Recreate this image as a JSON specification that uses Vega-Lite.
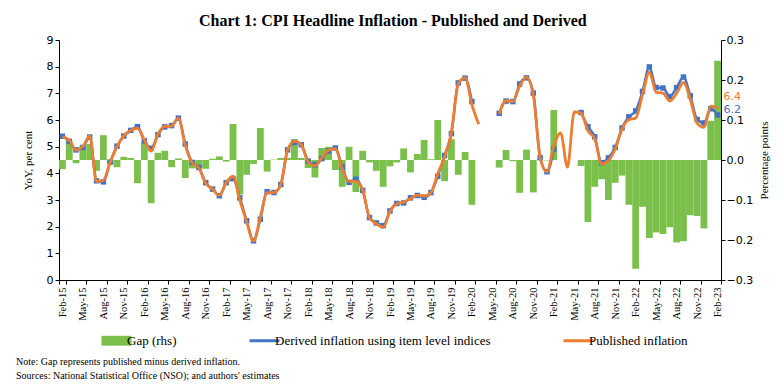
{
  "$schema": "https://vega.github.io/schema/vega-lite/v6.json",
  "background": "white",
  "padding": {"left": 16, "top": 13, "right": 4, "bottom": 2},
  "title": {"text": "Chart 1: CPI Headline Inflation - Published and Derived", "font": "Liberation Serif", "fontSize": 16, "fontWeight": "bold", "anchor": "middle", "color": "black", "offset": 5},
  "config": {
    "view": {"stroke": null},
    "axis": {"grid": false, "domainColor": "black", "tickColor": "black", "labelColor": "black", "titleColor": "black", "tickSize": 4}
  },
  "data": {"values": [
    {"month": "Feb-15", "published": 5.37, "derived": 5.39, "gap": -0.023},
    {"month": "Mar-15", "published": 5.25, "derived": 5.20, "gap": 0.048},
    {"month": "Apr-15", "published": 4.87, "derived": 4.88, "gap": -0.008},
    {"month": "May-15", "published": 5.01, "derived": 4.97, "gap": 0.036},
    {"month": "Jun-15", "published": 5.40, "derived": 5.36, "gap": 0.040},
    {"month": "Jul-15", "published": 3.69, "derived": 3.72, "gap": -0.027},
    {"month": "Aug-15", "published": 3.74, "derived": 3.68, "gap": 0.062},
    {"month": "Sep-15", "published": 4.41, "derived": 4.42, "gap": -0.010},
    {"month": "Oct-15", "published": 5.00, "derived": 5.02, "gap": -0.018},
    {"month": "Nov-15", "published": 5.41, "derived": 5.40, "gap": 0.008},
    {"month": "Dec-15", "published": 5.61, "derived": 5.61, "gap": 0.005},
    {"month": "Jan-16", "published": 5.69, "derived": 5.75, "gap": -0.058},
    {"month": "Feb-16", "published": 5.26, "derived": 5.22, "gap": 0.044},
    {"month": "Mar-16", "published": 4.83, "derived": 4.94, "gap": -0.108},
    {"month": "Apr-16", "published": 5.47, "derived": 5.45, "gap": 0.018},
    {"month": "May-16", "published": 5.76, "derived": 5.74, "gap": 0.023},
    {"month": "Jun-16", "published": 5.77, "derived": 5.79, "gap": -0.018},
    {"month": "Jul-16", "published": 6.07, "derived": 6.07, "gap": 0.004},
    {"month": "Aug-16", "published": 5.05, "derived": 5.10, "gap": -0.045},
    {"month": "Sep-16", "published": 4.39, "derived": 4.41, "gap": -0.021},
    {"month": "Oct-16", "published": 4.20, "derived": 4.22, "gap": -0.020},
    {"month": "Nov-16", "published": 3.63, "derived": 3.65, "gap": -0.022},
    {"month": "Dec-16", "published": 3.41, "derived": 3.41, "gap": 0.003},
    {"month": "Jan-17", "published": 3.17, "derived": 3.16, "gap": 0.009},
    {"month": "Feb-17", "published": 3.65, "derived": 3.65, "gap": -0.004},
    {"month": "Mar-17", "published": 3.89, "derived": 3.80, "gap": 0.090},
    {"month": "Apr-17", "published": 2.99, "derived": 3.08, "gap": -0.086},
    {"month": "May-17", "published": 2.18, "derived": 2.22, "gap": -0.037},
    {"month": "Jun-17", "published": 1.46, "derived": 1.47, "gap": -0.010},
    {"month": "Jul-17", "published": 2.36, "derived": 2.28, "gap": 0.080},
    {"month": "Aug-17", "published": 3.28, "derived": 3.31, "gap": -0.029},
    {"month": "Sep-17", "published": 3.28, "derived": 3.28, "gap": 0.001},
    {"month": "Oct-17", "published": 3.58, "derived": 3.58, "gap": 0.005},
    {"month": "Nov-17", "published": 4.88, "derived": 4.88, "gap": 0.005},
    {"month": "Dec-17", "published": 5.21, "derived": 5.16, "gap": 0.052},
    {"month": "Jan-18", "published": 5.07, "derived": 5.07, "gap": 0.005},
    {"month": "Feb-18", "published": 4.44, "derived": 4.46, "gap": -0.020},
    {"month": "Mar-18", "published": 4.28, "derived": 4.32, "gap": -0.044},
    {"month": "Apr-18", "published": 4.58, "derived": 4.55, "gap": 0.030},
    {"month": "May-18", "published": 4.87, "derived": 4.84, "gap": 0.033},
    {"month": "Jun-18", "published": 4.92, "derived": 4.95, "gap": -0.025},
    {"month": "Jul-18", "published": 4.17, "derived": 4.24, "gap": -0.067},
    {"month": "Aug-18", "published": 3.69, "derived": 3.66, "gap": 0.033},
    {"month": "Sep-18", "published": 3.70, "derived": 3.78, "gap": -0.080},
    {"month": "Oct-18", "published": 3.38, "derived": 3.36, "gap": 0.023},
    {"month": "Nov-18", "published": 2.33, "derived": 2.34, "gap": -0.006},
    {"month": "Dec-18", "published": 2.11, "derived": 2.14, "gap": -0.027},
    {"month": "Jan-19", "published": 1.97, "derived": 2.04, "gap": -0.067},
    {"month": "Feb-19", "published": 2.57, "derived": 2.59, "gap": -0.016},
    {"month": "Mar-19", "published": 2.86, "derived": 2.87, "gap": -0.006},
    {"month": "Apr-19", "published": 2.92, "derived": 2.89, "gap": 0.029},
    {"month": "May-19", "published": 3.05, "derived": 3.08, "gap": -0.031},
    {"month": "Jun-19", "published": 3.18, "derived": 3.17, "gap": 0.015},
    {"month": "Jul-19", "published": 3.15, "derived": 3.10, "gap": 0.050},
    {"month": "Aug-19", "published": 3.28, "derived": 3.28, "gap": 0.002},
    {"month": "Sep-19", "published": 3.99, "derived": 3.89, "gap": 0.100},
    {"month": "Oct-19", "published": 4.62, "derived": 4.67, "gap": -0.053},
    {"month": "Nov-19", "published": 5.54, "derived": 5.49, "gap": 0.052},
    {"month": "Dec-19", "published": 7.35, "derived": 7.39, "gap": -0.037},
    {"month": "Jan-20", "published": 7.59, "derived": 7.57, "gap": 0.020},
    {"month": "Feb-20", "published": 6.58, "derived": 6.69, "gap": -0.112},
    {"month": "Mar-20", "published": 5.84, "derived": null, "gap": null},
    {"month": "Apr-20", "published": null, "derived": null, "gap": null},
    {"month": "May-20", "published": null, "derived": null, "gap": null},
    {"month": "Jun-20", "published": 6.23, "derived": 6.25, "gap": -0.019},
    {"month": "Jul-20", "published": 6.73, "derived": 6.71, "gap": 0.025},
    {"month": "Aug-20", "published": 6.69, "derived": 6.69, "gap": -0.003},
    {"month": "Sep-20", "published": 7.27, "derived": 7.35, "gap": -0.082},
    {"month": "Oct-20", "published": 7.61, "derived": 7.58, "gap": 0.026},
    {"month": "Nov-20", "published": 6.93, "derived": 7.01, "gap": -0.081},
    {"month": "Dec-20", "published": 4.59, "derived": 4.59, "gap": 0.001},
    {"month": "Jan-21", "published": 4.06, "derived": 4.06, "gap": -0.001},
    {"month": "Feb-21", "published": 5.03, "derived": 4.91, "gap": 0.125},
    {"month": "Mar-21", "published": 5.52, "derived": null, "gap": null},
    {"month": "Apr-21", "published": 4.23, "derived": null, "gap": null},
    {"month": "May-21", "published": 6.30, "derived": null, "gap": null},
    {"month": "Jun-21", "published": 6.26, "derived": 6.28, "gap": -0.015},
    {"month": "Jul-21", "published": 5.59, "derived": 5.75, "gap": -0.155},
    {"month": "Aug-21", "published": 5.30, "derived": 5.37, "gap": -0.067},
    {"month": "Sep-21", "published": 4.35, "derived": 4.40, "gap": -0.048},
    {"month": "Oct-21", "published": 4.48, "derived": 4.58, "gap": -0.100},
    {"month": "Nov-21", "published": 4.91, "derived": 4.97, "gap": -0.057},
    {"month": "Dec-21", "published": 5.66, "derived": 5.70, "gap": -0.039},
    {"month": "Jan-22", "published": 6.01, "derived": 6.12, "gap": -0.112},
    {"month": "Feb-22", "published": 6.07, "derived": 6.34, "gap": -0.272},
    {"month": "Mar-22", "published": 6.95, "derived": 7.07, "gap": -0.117},
    {"month": "Apr-22", "published": 7.79, "derived": 7.99, "gap": -0.195},
    {"month": "May-22", "published": 7.04, "derived": 7.22, "gap": -0.181},
    {"month": "Jun-22", "published": 7.01, "derived": 7.20, "gap": -0.185},
    {"month": "Jul-22", "published": 6.71, "derived": 6.88, "gap": -0.168},
    {"month": "Aug-22", "published": 7.00, "derived": 7.21, "gap": -0.206},
    {"month": "Sep-22", "published": 7.41, "derived": 7.61, "gap": -0.203},
    {"month": "Oct-22", "published": 6.77, "derived": 6.91, "gap": -0.138},
    {"month": "Nov-22", "published": 5.88, "derived": 6.02, "gap": -0.140},
    {"month": "Dec-22", "published": 5.72, "derived": 5.89, "gap": -0.171},
    {"month": "Jan-23", "published": 6.52, "derived": 6.42, "gap": 0.098},
    {"month": "Feb-23", "published": 6.44, "derived": 6.19, "gap": 0.248}
  ]},
  "resolve": {"scale": {"color": "independent"}, "legend": {"color": "independent"}},
  "vconcat": [
    {
      "width": 662,
      "height": 240,
      "title": {"text": ["Note: Gap represents published minus derived inflation.", "Sources: National Statistical Office (NSO); and authors' estimates"], "orient": "bottom", "anchor": "start", "frame": "group", "dx": -43, "font": "Liberation Serif", "fontSize": 10, "fontWeight": "normal", "color": "black", "lineHeight": 14, "offset": 9},
      "resolve": {"scale": {"y": "independent"}},
      "layer": [
        {
          "mark": {"type": "bar"},
          "encoding": {
            "x": {"field": "month", "type": "nominal", "sort": null,
                  "scale": {"paddingInner": 0, "paddingOuter": 0,
                            "domain": ["Feb-15","Mar-15","Apr-15","May-15","Jun-15","Jul-15","Aug-15","Sep-15","Oct-15","Nov-15","Dec-15","Jan-16","Feb-16","Mar-16","Apr-16","May-16","Jun-16","Jul-16","Aug-16","Sep-16","Oct-16","Nov-16","Dec-16","Jan-17","Feb-17","Mar-17","Apr-17","May-17","Jun-17","Jul-17","Aug-17","Sep-17","Oct-17","Nov-17","Dec-17","Jan-18","Feb-18","Mar-18","Apr-18","May-18","Jun-18","Jul-18","Aug-18","Sep-18","Oct-18","Nov-18","Dec-18","Jan-19","Feb-19","Mar-19","Apr-19","May-19","Jun-19","Jul-19","Aug-19","Sep-19","Oct-19","Nov-19","Dec-19","Jan-20","Feb-20","Mar-20","Apr-20","May-20","Jun-20","Jul-20","Aug-20","Sep-20","Oct-20","Nov-20","Dec-20","Jan-21","Feb-21","Mar-21","Apr-21","May-21","Jun-21","Jul-21","Aug-21","Sep-21","Oct-21","Nov-21","Dec-21","Jan-22","Feb-22","Mar-22","Apr-22","May-22","Jun-22","Jul-22","Aug-22","Sep-22","Oct-22","Nov-22","Dec-22","Jan-23","Feb-23"]},
                  "axis": {"title": null, "labelAngle": -90, "labelFont": "Liberation Serif", "labelFontSize": 10.5, "labelPadding": 3, "tickBand": "extent", "labelOverlap": false,
                           "values": ["Feb-15","May-15","Aug-15","Nov-15","Feb-16","May-16","Aug-16","Nov-16","Feb-17","May-17","Aug-17","Nov-17","Feb-18","May-18","Aug-18","Nov-18","Feb-19","May-19","Aug-19","Nov-19","Feb-20","May-20","Aug-20","Nov-20","Feb-21","May-21","Aug-21","Nov-21","Feb-22","May-22","Aug-22","Nov-22","Feb-23"]}},
            "y": {"field": "gap", "type": "quantitative",
                  "scale": {"domain": [-0.3, 0.3]},
                  "axis": {"orient": "right", "title": "Percentage points", "values": [-0.3, -0.2, -0.1, 0, 0.1, 0.2, 0.3], "format": ".1f", "labelOverlap": false, "labelPadding": 1, "labelFont": "DejaVu Sans", "labelFontSize": 11, "titleFont": "Liberation Serif", "titleFontSize": 11, "titleFontWeight": "normal", "titleAngle": 270, "titleBaseline": "top", "titlePadding": 6}},
            "color": {"datum": "Gap (rhs)", "type": "nominal",
                      "scale": {"domain": ["Gap (rhs)", "Derived inflation using item level indices", "Published inflation"], "range": ["#7BC04B", "#4472C4", "#ED7D31"]},
                      "legend": {"orient": "none", "legendX": 51, "legendY": 294, "direction": "horizontal", "columns": 3, "title": null, "symbolType": "stroke", "symbolSize": 900, "symbolStrokeWidth": 3, "labelFont": "Liberation Serif", "labelFontSize": 13, "labelColor": "black", "labelLimit": 400, "columnPadding": 66, "labelOffset": 4,
                                 "encode": {"symbols": {"update": {
                                   "shape": {"signal": "datum.value === 'Gap (rhs)' ? 'M-1,-0.33H1V0.33H-1Z' : 'stroke'"},
                                   "fill": {"signal": "datum.value === 'Gap (rhs)' ? '#7BC04B' : 'transparent'"},
                                   "strokeWidth": {"signal": "datum.value === 'Gap (rhs)' ? 0 : 3"}}}}}}
          }
        },
        {
          "mark": {"type": "line", "interpolate": "monotone", "strokeWidth": 2.5, "invalid": "break-paths-show-domains", "point": {"shape": "square", "size": 30, "filled": true}},
          "encoding": {
            "x": {"field": "month", "type": "nominal", "sort": null},
            "y": {"field": "derived", "type": "quantitative", "scale": {"domain": [0, 9], "nice": false},
                  "axis": {"orient": "left", "title": "YoY, per cent", "values": [0,1,2,3,4,5,6,7,8,9], "tickCount": 10, "labelOverlap": false, "labelFont": "DejaVu Sans", "labelFontSize": 11, "titleFont": "Liberation Serif", "titleFontSize": 11, "titleFontWeight": "normal", "titlePadding": 13}},
            "color": {"datum": "Derived inflation using item level indices", "type": "nominal"}
          }
        },
        {
          "mark": {"type": "line", "interpolate": "monotone", "strokeWidth": 2.8, "invalid": "break-paths-show-domains"},
          "encoding": {
            "x": {"field": "month", "type": "nominal", "sort": null},
            "y": {"field": "published", "type": "quantitative", "scale": {"domain": [0, 9], "nice": false}, "axis": null},
            "color": {"datum": "Published inflation", "type": "nominal"}
          }
        },
        {
          "transform": [{"filter": "datum.month === 'Feb-23'"}],
          "mark": {"type": "text", "align": "left", "dx": 6, "dy": -11, "font": "DejaVu Sans", "fontSize": 11, "color": "#ED7D31"},
          "encoding": {
            "x": {"field": "month", "type": "nominal", "sort": null},
            "y": {"field": "published", "type": "quantitative", "scale": {"domain": [0, 9], "nice": false}, "axis": null},
            "text": {"field": "published", "type": "quantitative", "format": ".1f"}
          }
        },
        {
          "transform": [{"filter": "datum.month === 'Feb-23'"}],
          "mark": {"type": "text", "align": "left", "dx": 6, "dy": -5, "font": "DejaVu Sans", "fontSize": 11, "color": "#4472C4"},
          "encoding": {
            "x": {"field": "month", "type": "nominal", "sort": null},
            "y": {"field": "derived", "type": "quantitative", "scale": {"domain": [0, 9], "nice": false}, "axis": null},
            "text": {"field": "derived", "type": "quantitative", "format": ".1f"}
          }
        }
      ]
    }
  ]
}
